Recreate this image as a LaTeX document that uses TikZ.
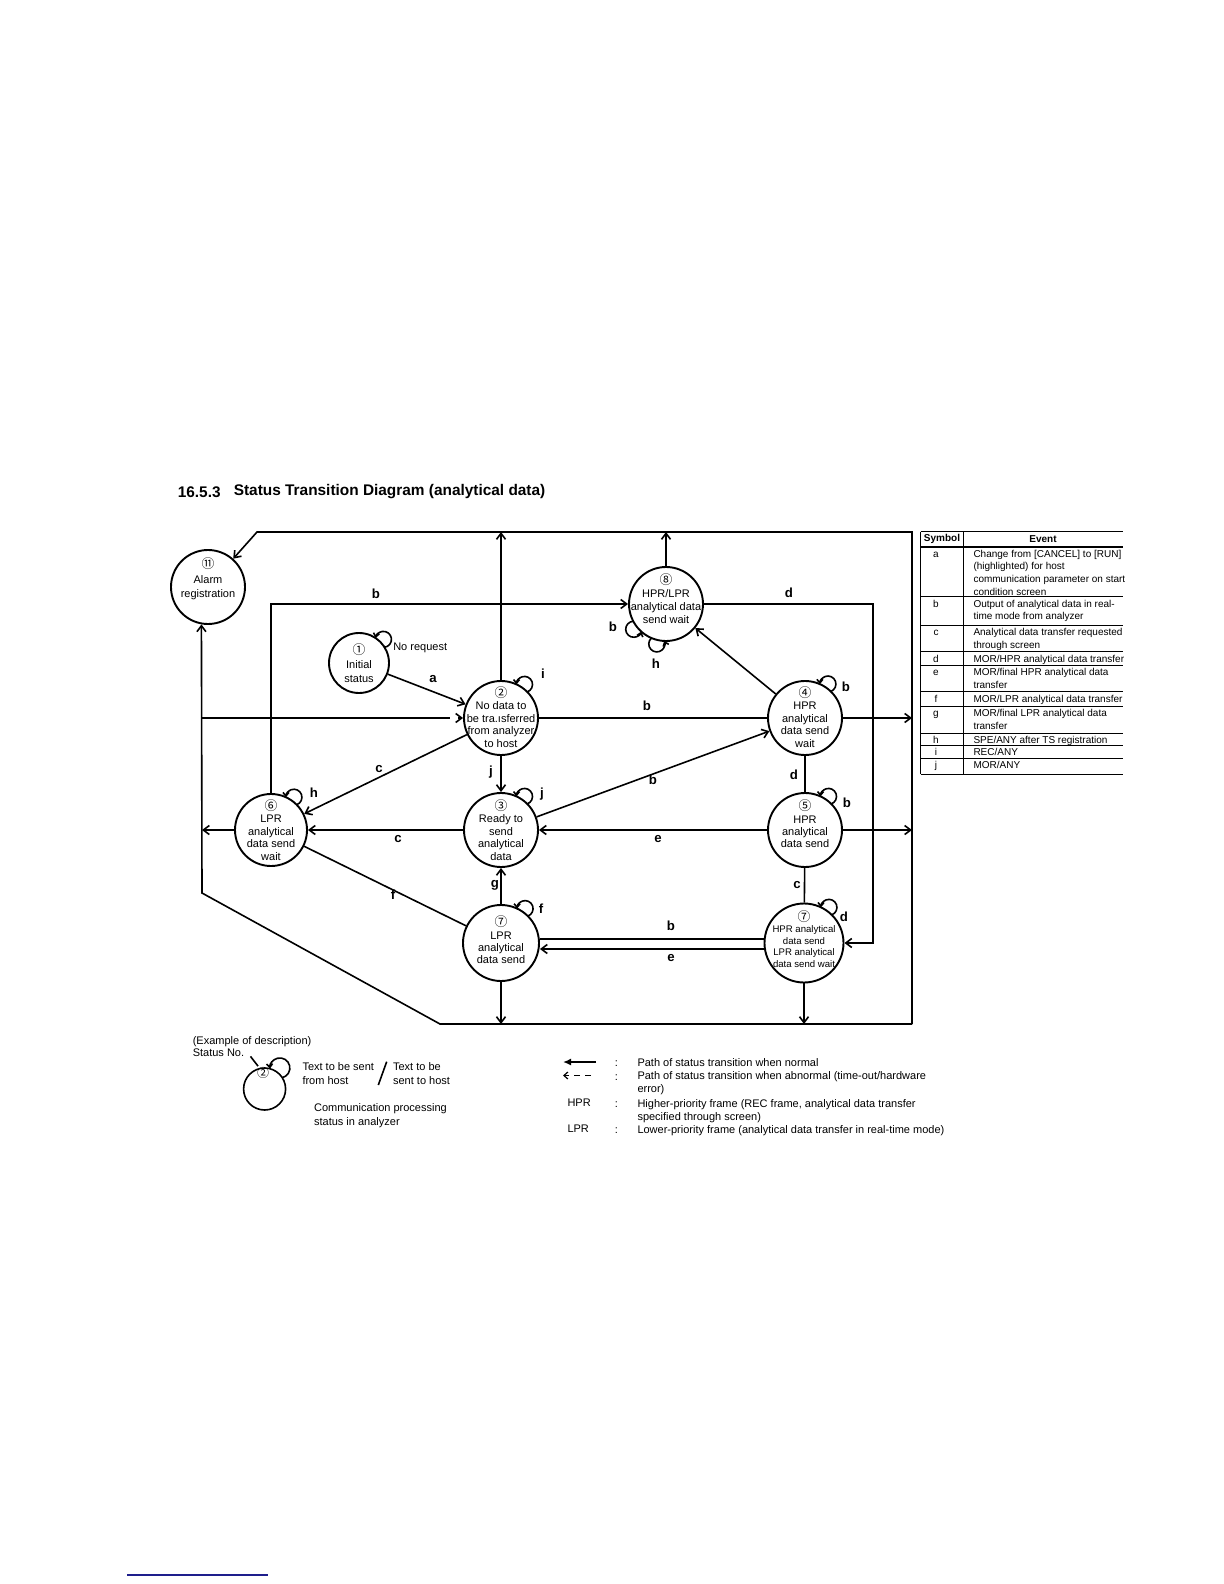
\documentclass[tikz,border=0pt]{standalone}
\usepackage{fontspec}
\setmainfont{Liberation Sans}
\newfontfamily\circfont{Noto Sans CJK SC}
\usetikzlibrary{arrows.meta,calc}

\newcommand\cn[1]{{\circfont\fontsize{6.4}{6}\selectfont #1}}
% \selfloop[rho px]{node}{visual angle}{R px}
\newcommand\selfloop[4][8]{%
  \pgfmathsetmacro\lpd{(#4+0.5*#1)/2}%
  \pgfmathsetmacro\lpa{acos((#4+1.25*#1)/(2*#4+#1))}%
  \pgfmathsetmacro\lps{#3+180+\lpa}%
  \pgfmathsetmacro\lpx{360-2*\lpa}%
  \pgfmathsetmacro\lpr{#1/2}%
  \draw[loopst] ($(#2.center)+(#3:\lpd pt)+(\lps:\lpr pt)$) arc[start angle=\lps, delta angle=\lpx, radius=\lpr pt];%
}

\tikzset{
  st/.style={circle, draw, line width=0.95pt, inner sep=0pt, minimum size=#1},
  txt/.style={align=center, inner sep=0pt, font=\fontsize{5.5}{6.2}\selectfont},
  lab/.style={inner sep=0pt, font=\bfseries\fontsize{6.6}{7}\selectfont},
  conn/.style={line width=0.8pt},
  loopst/.style={line width=0.8pt, -{Straight Barb[length=1.8pt,width=3pt]}},
  tline/.style={line width=0.5pt},
  ttext/.style={anchor=north west, align=left, inner sep=0pt, font=\fontsize{5}{6.3}\selectfont},
  tsym/.style={anchor=north, inner sep=0pt, font=\fontsize{5}{6.3}\selectfont},
  lg/.style={anchor=north west, align=left, inner sep=0pt, font=\fontsize{5.5}{6.5}\selectfont},
  >={Straight Barb[length=3pt,width=4.5pt]},
}

\begin{document}
\begin{tikzpicture}[x=0.5pt, y=-0.5pt, every path/.style={conn}]
\useasboundingbox (0,0) rectangle (1224,1584);

% title
\node[anchor=west, inner sep=0pt, font=\bfseries\fontsize{7.7}{9}\selectfont] (tnum) at (177,492) {16.5.3};
\node[anchor=west, inner sep=0pt, font=\bfseries\fontsize{7.7}{9}\selectfont] (ttl) at (233,492) {Status Transition Diagram (analytical data)};

% state circles
\node[st=37pt] (n11) at (208,587) {};
\node[st=30pt] (n1) at (359,663) {};
\node[st=37pt] (n2) at (501,718) {};
\node[st=37pt] (n3) at (501,830) {};
\node[st=37pt] (n4) at (805,718) {};
\node[st=37pt] (n5) at (805,830) {};
\node[st=36pt] (n6) at (271,830) {};
\node[st=38pt] (n7) at (501,943) {};
\node[st=39.5pt] (n7h) at (804,943) {};
\node[st=37pt] (n8) at (666,604) {};

% state texts
\node[txt, font=\fontsize{5.5}{7.2}\selectfont] (t11) at (208,579) {\cn{⑪}\\Alarm\\registration};
\node[txt, font=\fontsize{5.5}{7}\selectfont] (t1) at (359,663) {\cn{①}\\Initial\\status};
\node[txt] (t2) at (501,717) {\cn{②}\\No data to\\be tra.ısferred\\from analyzer\\to host};
\node[txt] (t3) at (501,830) {\cn{③}\\Ready to\\send\\analytical\\data};
\node[txt] (t4) at (805,717) {\cn{④}\\HPR\\analytical\\data send\\wait};
\node[txt] (t5) at (805,824) {\cn{⑤}\\HPR\\analytical\\data send};
\node[txt] (t6) at (271,830) {\cn{⑥}\\LPR\\analytical\\data send\\wait};
\node[txt] (t7) at (501,940) {\cn{⑦}\\LPR\\analytical\\data send};
\node[txt, font=\fontsize{4.8}{5.8}\selectfont] (t7h) at (804,939) {\cn{⑦}\\HPR analytical\\data send\\LPR analytical\\data send wait};
\node[txt, font=\fontsize{5.5}{6.5}\selectfont] (t8) at (666,599) {\cn{⑧}\\HPR/LPR\\analytical data\\send wait};

% frame coordinates
\coordinate (fTL) at (257,532);
\coordinate (fTR) at (912,532);
\coordinate (fBR) at (912,1024);
\coordinate (fBL) at (440,1024);
\coordinate (fLB) at (202,893);
\coordinate (fDash) at (440,718);
\coordinate (dR) at (873,943);

% frame (abnormal collection lines)
\draw[->] (fBR) -- (fTR) -- (fTL) -- (n11);
\draw[->] (fBR) -- (fBL) -- (fLB) -- (n11.260);
\draw (fLB |- n2) -- (fDash);
\draw[->, dash pattern=on 5pt off 4pt] (fDash) -- (n2);
\draw[->] (n2) -- (n2 |- fTL);
\draw[->] (n8) -- (n8 |- fTL);
\draw[->] (n4) -- (n4 -| fTR);
\draw[->] (n5) -- (n5 -| fTR);
\draw[->] (n6) -- (n6 -| fLB);
\draw[->] (n7) -- (n7 |- fBR);
\draw[->] (n7h) -- (n7h |- fBR);

% transitions
\draw[->] (n6) |- (n8);
\draw[->] (n8) -| (dR) -- (n7h);
\draw[->] (n1) -- (n2);
\draw[->] (n2) -- (n6);
\draw[->] (n2) -- (n3);
\draw (n2) -- (n4);
\draw[->] (n3) -- (n4);
\draw[->] (n4) -- (n8);
\draw (n4) -- (n5);
\draw[->] (n5) -- (n3);
\draw[->] (n3) -- (n6);
\draw (n5) -- (n7h);
\draw[->] (n7) -- (n3);
\draw (n6) -- (n7);
\draw ([yshift=2pt]n7h.west) -- ([yshift=2pt]n7.east);
\draw[->] ([yshift=-3pt]n7h.west) -- ([yshift=-3pt]n7.east);

% self loops
\selfloop{n1}{44}{30}
\selfloop{n2}{55}{37}
\selfloop{n3}{55}{37}
\selfloop{n4}{56}{37}
\selfloop{n5}{55}{37}
\selfloop{n6}{55}{36}
\selfloop{n7}{55}{38}
\selfloop{n7h}{55}{39.5}
\selfloop{n8}{218}{37}
\selfloop{n8}{257}{37}

% transition labels
\node[lab] (la) at (433,679) {a};
\node[lab] (lb1) at (376,594) {b};
\node[lab] (ld1) at (789,593) {d};
\node[lab] (lb2) at (647,706) {b};
\node[lab] (lc1) at (379,769) {c};
\node[lab] (lj1) at (491,772) {j};
\node[lab] (lb3) at (653,780) {b};
\node[lab] (ld2) at (794,775) {d};
\node[lab] (lc2) at (398,839) {c};
\node[lab] (le1) at (658,839) {e};
\node[lab] (lc3) at (797,885) {c};
\node[lab] (lg1) at (495,885) {g};
\node[lab] (lf1) at (393,895) {f};
\node[lab] (lb4) at (671,926) {b};
\node[lab] (le2) at (671,958) {e};
% loop labels
\node[lab] (li) at (543,674) {i};
\node[lab] (lj2) at (542,794) {j};
\node[lab] (lb5) at (846,687) {b};
\node[lab] (lb6) at (847,803) {b};
\node[lab] (lh1) at (314,793) {h};
\node[lab] (lf2) at (541,909) {f};
\node[lab] (ld3) at (844,917) {d};
\node[lab] (lb7) at (613,627) {b};
\node[lab] (lh2) at (656,664) {h};
\node[anchor=west, inner sep=0pt, font=\fontsize{5.5}{6}\selectfont] (nreq) at (392.5,648) {No request};

% event table
\draw[tline] (920.7,531.7) -- (1123,531.7);
\draw[line width=0.9pt] (920.7,546.7) -- (1123,546.7);
\foreach \yy in {596.7,625,651.7,665,691.7,706,733.3,745,758.3,774}
  \draw[tline] (920.7,\yy) -- (1123,\yy);
\draw[tline] (920.7,531.7) -- (920.7,774);
\draw[tline] (963.3,531.7) -- (963.3,774);
\node[inner sep=0pt, font=\bfseries\fontsize{5}{6}\selectfont] (hsym) at (942,539.2) {Symbol};
\node[inner sep=0pt, font=\bfseries\fontsize{5}{6}\selectfont] (hev) at (1043,539.2) {Event};
\node[tsym] (sa) at (936,549.3) {\vphantom{Ch}a};
\node[ttext] (ea) at (972.7,549.3) {Change from [CANCEL] to [RUN]\\(highlighted) for host\\communication parameter on start\\condition screen};
\node[tsym] (sb) at (936,599.3) {\vphantom{Ch}b};
\node[ttext] (eb) at (972.7,599.3) {Output of analytical data in real-\\time mode from analyzer};
\node[tsym] (sc) at (936,627.6) {\vphantom{Ch}c};
\node[ttext] (ec) at (972.7,627.6) {Analytical data transfer requested\\through screen};
\node[tsym] (sd) at (936,654.3) {\vphantom{Ch}d};
\node[ttext] (ed) at (972.7,654.3) {MOR/HPR analytical data transfer};
\node[tsym] (se) at (936,667.6) {\vphantom{Ch}e};
\node[ttext] (ee) at (972.7,667.6) {MOR/final HPR analytical data\\transfer};
\node[tsym] (sf) at (936,694.3) {\vphantom{Ch}f};
\node[ttext] (ef) at (972.7,694.3) {MOR/LPR analytical data transfer};
\node[tsym] (sg) at (936,708.6) {\vphantom{Ch}g};
\node[ttext] (eg) at (972.7,708.6) {MOR/final LPR analytical data\\transfer};
\node[tsym] (sh) at (936,735.9) {\vphantom{Ch}h};
\node[ttext] (eh) at (972.7,735.9) {SPE/ANY after TS registration};
\node[tsym] (si) at (936,747.6) {\vphantom{Ch}i};
\node[ttext] (ei) at (972.7,747.6) {REC/ANY};
\node[tsym] (sj) at (936,760.9) {\vphantom{Ch}j};
\node[ttext] (ej) at (972.7,760.9) {MOR/ANY};

% example of description
\node[lg] (ex1) at (192,1035.5) {(Example of description)};
\node[lg] (ex2) at (192,1048.5) {Status No.};
\node[st=21pt, line width=0.8pt] (exc) at (264.6,1089) {};
\node[inner sep=0pt, font=\circfont\fontsize{6}{6}\selectfont] (exn) at (263,1072.5) {②};
\coordinate (exp) at (250.5,1056.4);
\draw (exp) -- (exn);
\selfloop[10]{exc}{54}{21}
\node[lg, font=\fontsize{5.5}{7}\selectfont] (ex3) at (301.7,1061.5) {Text to be sent\\from host};
\coordinate (sl1) at (386.7,1061.7);
\coordinate (sl2) at (378.3,1085);
\draw (sl1) -- (sl2);
\node[lg, font=\fontsize{5.5}{7}\selectfont] (ex4) at (392.3,1061.5) {Text to be\\sent to host};
\node[lg, font=\fontsize{5.5}{6.75}\selectfont] (ex5) at (313.3,1103) {Communication processing\\status in analyzer};

% legend
\coordinate (lgA1) at (596,1062);
\coordinate (lgA2) at (563,1062);
\draw[line width=1.2pt, -{Latex[length=4pt,width=3.5pt]}] (lgA1) -- (lgA2);
\coordinate (lgB1) at (591,1075.5);
\coordinate (lgB2) at (563,1075.5);
\draw[line width=0.6pt, dash pattern=on 3pt off 2.5pt, -{Straight Barb[length=2pt,width=3.5pt]}] (lgB1) -- (lgB2);
\node[lg] (lh) at (566.7,1098.5) {HPR};
\node[lg] (ll) at (566.7,1124.5) {LPR};
\node[lg] (k1) at (614,1058.5) {\vphantom{P}:};
\node[lg] (k2) at (614,1072) {\vphantom{P}:};
\node[lg] (k3) at (614,1099.5) {\vphantom{P}:};
\node[lg] (k4) at (614,1125.5) {\vphantom{P}:};
\node[lg] (d1) at (636.7,1057.5) {Path of status transition when normal};
\node[lg] (d2) at (636.7,1071) {Path of status transition when abnormal (time-out/hardware\\error)};
\node[lg] (d3) at (636.7,1098.5) {Higher-priority frame (REC frame, analytical data transfer\\specified through screen)};
\node[lg] (d4) at (636.7,1124.5) {Lower-priority frame (analytical data transfer in real-time mode)};

% footnote rule
\coordinate (fn1) at (127,1575);
\coordinate (fn2) at (268,1575);
\draw[line width=0.7pt, color={rgb,255:red,30;green,30;blue,140}] (fn1) -- (fn2);
\end{tikzpicture}
\end{document}
